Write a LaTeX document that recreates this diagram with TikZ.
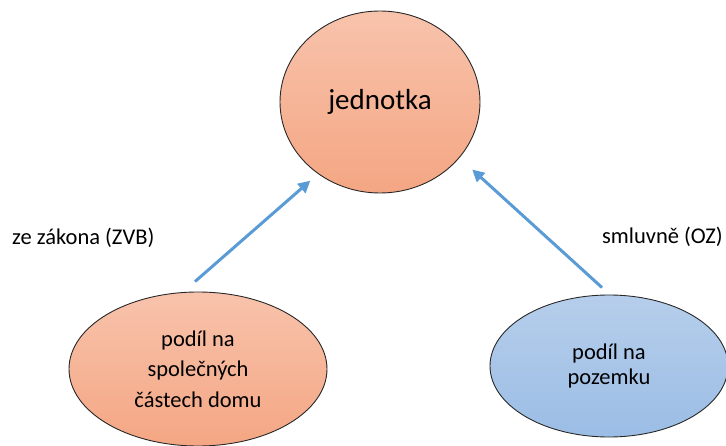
\documentclass[tikz,border=0pt]{standalone}
\usepackage{fontspec}
\setmainfont{Carlito}
\usetikzlibrary{arrows.meta,shapes.geometric}
\definecolor{orTop}{RGB}{248,195,172}
\definecolor{orBot}{RGB}{244,166,131}
\definecolor{blTop}{RGB}{182,206,235}
\definecolor{blBot}{RGB}{155,189,229}
\definecolor{arrBlue}{RGB}{91,155,213}
\definecolor{edge}{RGB}{40,40,40}
\tikzset{
  orangeell/.style={ellipse, draw=edge, line width=0.9pt, inner sep=0pt, top color=orTop, bottom color=orBot, align=center},
  blueell/.style={ellipse, draw=edge, line width=0.9pt, inner sep=0pt, top color=blTop, bottom color=blBot, align=center},
  arr/.style={draw=arrBlue, line width=3pt, -{Triangle[length=12pt,width=12pt]}},
  lbl/.style={inner sep=0pt, font=\fontsize{22.5pt}{30pt}\selectfont}
}
\begin{document}
\begin{tikzpicture}[x=1pt,y=-1pt]
\useasboundingbox (0,0) rectangle (726,446);
\node[orangeell, minimum width=200pt, minimum height=182pt, font=\fontsize{29pt}{34pt}\selectfont] (t) at (380,102) {\raisebox{6pt}{jednotka}};
\node[orangeell, minimum width=258pt, minimum height=154pt, font=\fontsize{22.5pt}{30.5pt}\selectfont] (l) at (198,369) {podíl na\\společných\\částech domu};
\node[blueell, minimum width=238pt, minimum height=142pt, font=\fontsize{22.5pt}{25pt}\selectfont] (r) at (609,366) {podíl na\\pozemku};
\node[lbl, anchor=west] (lz) at (12,238) {ze zákona (ZVB)};
\node[lbl, anchor=east] (ls) at (723,237) {smluvně (OZ)};
\draw[arr] ([shift={(-3,-10)}]l.north) -- ([shift={(-6,8)}]t.228);
\draw[arr] ([shift={(-7,-7)}]r.north) -- ([shift={(16,8)}]t.322);
\end{tikzpicture}
\end{document}
